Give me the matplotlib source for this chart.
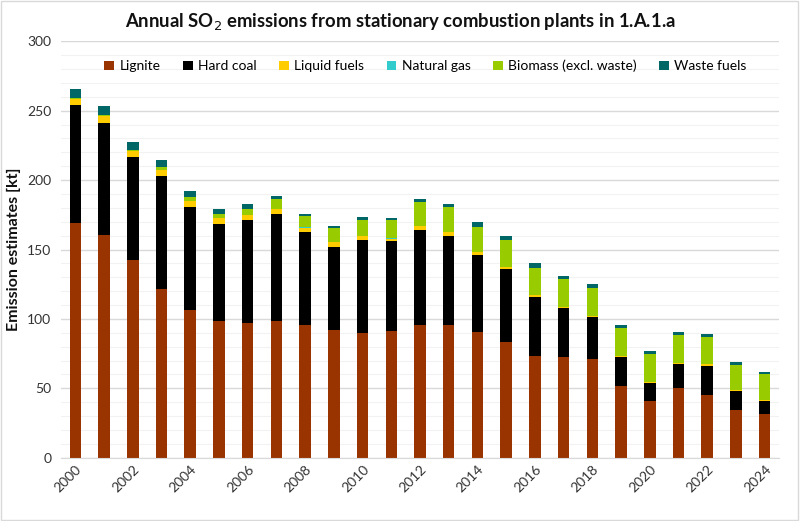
import matplotlib
matplotlib.use("Agg")
import matplotlib.pyplot as plt
from matplotlib.patches import Rectangle
from matplotlib.ticker import MultipleLocator
import numpy as np

years = list(range(2000, 2025))
lignite = [168.9, 160.4, 142.4, 121.5, 106.4, 98.7, 97.3, 98.5, 95.4, 91.8,
           90.0, 91.3, 95.6, 95.4, 90.8, 83.6, 73.3, 72.6, 71.1, 51.7,
           40.9, 50.0, 45.2, 34.6, 31.3]
hard_coal = [85.0, 81.0, 74.2, 81.7, 74.4, 69.7, 73.9, 77.3, 67.0, 60.0,
             66.8, 64.6, 68.4, 64.5, 55.2, 52.1, 42.5, 35.3, 30.5, 20.9,
             13.1, 17.3, 21.1, 13.2, 9.3]
liquid_fuels = [4.3, 4.7, 4.4, 4.0, 4.0, 4.0, 3.6, 3.5, 3.4, 3.6,
                3.0, 2.0, 2.9, 2.9, 2.0, 1.5, 1.2, 0.9, 0.7, 0.7,
                0.8, 0.7, 1.2, 0.8, 0.8]
natural_gas = [0.1] * 25
biomass = [0.5, 1.0, 0.7, 2.0, 3.0, 3.0, 4.0, 6.7, 8.4, 10.0,
           11.3, 13.4, 17.5, 17.8, 18.4, 19.6, 19.9, 19.9, 20.2, 19.9,
           19.9, 20.2, 19.7, 18.4, 18.7]
waste_fuels = [6.5, 6.1, 5.5, 5.3, 4.0, 4.0, 3.6, 2.4, 1.0, 1.7,
               2.2, 1.5, 1.8, 2.4, 3.2, 3.1, 3.1, 2.4, 2.6, 2.2,
               2.2, 2.4, 2.1, 1.7, 1.6]

series = [
    ("Lignite", lignite, "#993300"),
    ("Hard coal", hard_coal, "#000000"),
    ("Liquid fuels", liquid_fuels, "#FFCC00"),
    ("Natural gas", natural_gas, "#33CCCC"),
    ("Biomass (excl. waste)", biomass, "#99CC00"),
    ("Waste fuels", waste_fuels, "#006666"),
]

plt.rcParams['font.family'] = ['Lato', 'DejaVu Sans']

fig = plt.figure(figsize=(8.0, 5.21), dpi=100)
ax = fig.add_axes([0.07625, 0.1215, 0.8975, 0.7992])

x = np.arange(len(years))
bottom = np.zeros(len(years))
handles = []
for name, vals, col in series:
    v = np.array(vals)
    b = ax.bar(x, v, width=0.4, bottom=bottom, color=col, label=name,
               edgecolor='none', zorder=3)
    handles.append(b)
    bottom += v

ax.set_ylim(0, 300)
ax.set_xlim(-0.5, len(years) - 0.5)
ax.yaxis.set_major_locator(MultipleLocator(50))
ax.yaxis.set_minor_locator(MultipleLocator(10))
ax.grid(axis='y', which='major', color='#d9d9d9', linewidth=1.0, zorder=0)
ax.grid(axis='y', which='minor', color='#f2f2f2', linewidth=0.8, zorder=0)
ax.tick_params(axis='y', which='both', length=0, labelsize=10, colors='#333333', pad=7)
ax.tick_params(axis='x', length=0, labelsize=10, colors='#333333', pad=4)

tick_pos = x[::2]
ax.set_xticks(tick_pos)
ax.set_xticklabels([str(years[i]) for i in tick_pos], rotation=45,
                   ha='right', rotation_mode='anchor')

for s in ['top', 'right', 'left']:
    ax.spines[s].set_visible(False)
ax.spines['bottom'].set_color('#d9d9d9')
ax.spines['bottom'].set_zorder(4)

ax.set_ylabel("Emission estimates [kt]", fontsize=11.5, fontweight='bold',
              color='#111111', labelpad=4)

fig.text(0.5, 0.958, "Annual SO$_2$ emissions from stationary combustion plants in 1.A.1.a",
         ha='center', va='center', fontsize=13.3, fontweight='bold', color='#111111')

fig.legend(handles=handles, labels=[s[0] for s in series], loc='center',
           bbox_to_anchor=(0.532, 0.873), ncol=6, frameon=False, fontsize=10,
           handlelength=0.7, handleheight=0.7, handletextpad=0.4,
           columnspacing=1.6)

fig.patches.append(Rectangle((0.001, 0.001), 0.997, 0.997, transform=fig.transFigure,
                             fill=False, edgecolor='#d9d9d9', linewidth=1.0))

fig.savefig("out.png", dpi=100)
